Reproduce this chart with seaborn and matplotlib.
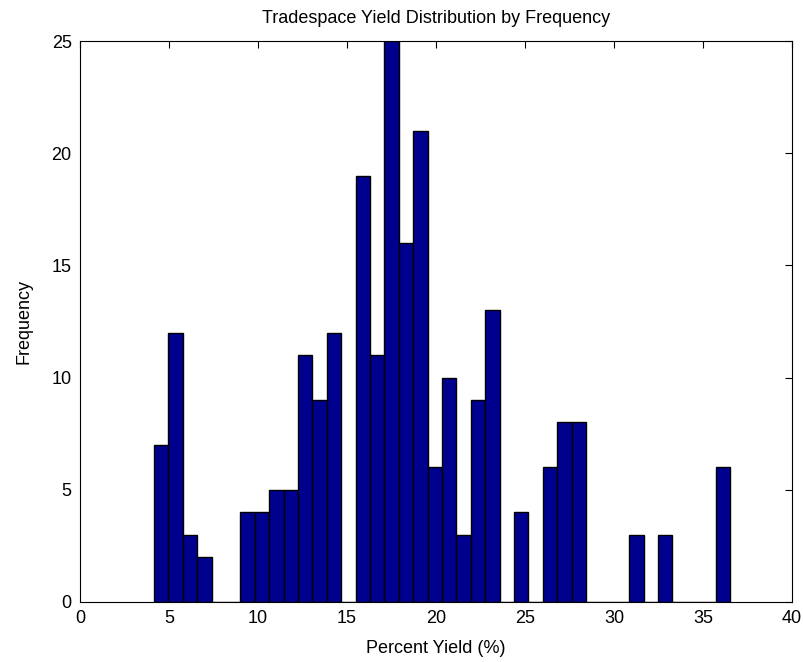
import numpy as np
import pandas as pd
import matplotlib
matplotlib.use("Agg")
import matplotlib.pyplot as plt
import seaborn as sns

# Histogram data (40 equal bins)
bin_low = 4.157
bin_high = 36.52
counts = [7, 12, 3, 2, 0, 0, 4, 4, 5, 5,
          11, 9, 12, 0, 19, 11, 25, 16, 21, 6,
          10, 3, 9, 13, 0, 4, 0, 6, 8, 8,
          0, 0, 0, 3, 0, 3, 0, 0, 0, 6]
x_ticks = [0, 5, 10, 15, 20, 25, 30, 35, 40]
y_ticks = [0, 5, 10, 15, 20, 25]

edges = np.linspace(bin_low, bin_high, len(counts) + 1)
centers = (edges[:-1] + edges[1:]) / 2
df = pd.DataFrame({"yield": centers, "count": counts})

sns.set_style("white")
plt.rcParams["font.family"] = ["Liberation Sans", "DejaVu Sans"]
plt.rcParams["text.color"] = "black"
plt.rcParams["axes.labelcolor"] = "black"

fig = plt.figure(figsize=(8.04, 6.62), dpi=100)
ax = fig.add_axes([80 / 804, 60 / 662, 712 / 804, 561 / 662])

sns.histplot(data=df, x="yield", weights="count", bins=len(counts),
             binrange=(bin_low, bin_high),
             color="#00008F", edgecolor="black", linewidth=1.0,
             alpha=1.0, ax=ax)

ax.set_xlim(0, 40)
ax.set_ylim(0, 25)
ax.set_xticks(x_ticks)
ax.set_yticks(y_ticks)
ax.tick_params(direction="in", length=5, width=0.8, top=True, right=True,
               labelsize=13, colors="black")
ax.tick_params(axis="x", pad=6)
ax.tick_params(axis="y", pad=6)
for s in ax.spines.values():
    s.set_visible(True)
    s.set_color("black")
    s.set_linewidth(0.8)

ax.set_xlabel("Percent Yield (%)", fontsize=13, labelpad=9, color="black")
ax.set_ylabel("Frequency", fontsize=13, labelpad=14, color="black")
ax.set_title("Tradespace Yield Distribution by Frequency", fontsize=13,
             pad=13, color="black")

fig.savefig("out.png", dpi=100)
